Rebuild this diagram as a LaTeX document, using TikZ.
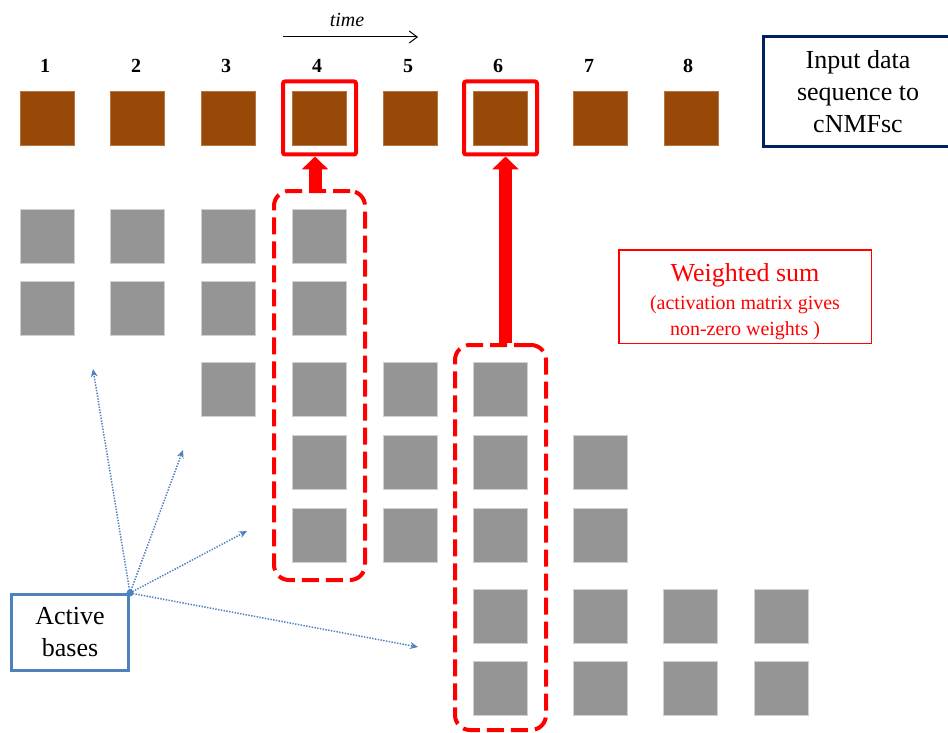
\documentclass[tikz,border=0pt]{standalone}
\usepackage{fontspec}
\setmainfont{Liberation Serif}
\usetikzlibrary{arrows.meta}
\definecolor{brn}{HTML}{984807}
\definecolor{gry}{HTML}{959595}
\definecolor{gryline}{HTML}{D0D0D0}
\definecolor{navy}{HTML}{002060}
\definecolor{bblue}{HTML}{4F81BD}
\definecolor{rred}{HTML}{FF0000}
\tikzset{
  brownsq/.style={fill=brn, draw=brn!75!white, line width=0.6pt, minimum size=54pt, inner sep=0pt},
  graysq/.style={fill=gry, draw=gryline, line width=0.8pt, minimum size=54pt, inner sep=0pt},
  numlab/.style={font=\fontsize{20}{24}\selectfont\bfseries, inner sep=0pt},
  redbox/.style={draw=rred, line width=4pt, rounded corners=2pt, minimum size=73pt, inner sep=0pt},
  dashbox/.style={draw=rred, line width=4pt, rounded corners=15pt, dash pattern=on 17pt off 7pt, minimum width=91pt, inner sep=0pt},
  uparrow/.style={draw=rred, line width=13pt, -{Triangle[width=26pt,length=13pt]}},
  bigtext/.style={font=\fontsize{26}{32}\selectfont, align=center},
  inbox/.style={bigtext, draw=navy, line width=3pt, minimum width=189pt, minimum height=110pt, inner sep=0pt},
  wtext/.style={text=rred, inner sep=0pt, align=center, font=\fontsize{26}{29}\selectfont},
  wframe/.style={draw=rred, line width=1.5pt},
  abox/.style={bigtext, draw=bblue, line width=3pt, minimum width=117pt, minimum height=76pt, inner sep=0pt},
  dotarrow/.style={draw=bblue, line width=1.5pt, dash pattern=on 1.4pt off 1.4pt, -{Stealth[length=8pt,width=7pt]}},
  timearrow/.style={draw=black, line width=1pt, -{Straight Barb[length=8pt,width=12pt]}}
}
\begin{document}
\begin{tikzpicture}[x=1pt,y=-1pt]
\useasboundingbox (0,0) rectangle (948,733);
% input sequence
\foreach \n/\cx in {1/47.5,2/137.5,3/228.5,4/319.5,5/410,6/500.5,7/600,8/691}
  \node[brownsq] (b\n) at (\cx,118.5) {};
\foreach \n/\lx in {1/45,2/136,3/226,4/317,5/408,6/498,7/589,8/688}
  \node[numlab] (n\n) at (\lx,66) {\n};
% time
\coordinate (ts) at (283,37);
\coordinate (te) at (418,37);
\draw[timearrow] (ts) -- (te);
\node[font=\fontsize{20}{24}\selectfont\itshape] (tl) at (347,20) {time};
% gray bases
\foreach \n/\cx in {1/47.5,2/137.5,3/228.5,4/319.5}{
  \node[graysq] (gA\n) at (\cx,236) {};
  \node[graysq] (gB\n) at (\cx,308.5) {};
}
\foreach \n/\cx in {3/228.5,4/319.5,5/410,6/500.5}
  \node[graysq] (gC\n) at (\cx,389.5) {};
\foreach \n/\cx in {4/319.5,5/410,6/500.5,7/600.5}{
  \node[graysq] (gD\n) at (\cx,462.5) {};
  \node[graysq] (gE\n) at (\cx,535) {};
}
\foreach \n/\cx in {6/500.5,7/600.5,8/690.5,9/781}{
  \node[graysq] (gF\n) at (\cx,616) {};
  \node[graysq] (gG\n) at (\cx,688.5) {};
}
% red highlight boxes
\node[redbox] (r4) at (319.5,118) {};
\node[redbox] (r6) at (500.5,118) {};
\node[dashbox, minimum height=389pt] (d4) at (319.5,385.5) {};
\node[dashbox, minimum height=385pt] (d6) at (500.5,537.5) {};
\coordinate (ax4) at (315,0);
\coordinate (ax6) at (505.5,0);
\draw[uparrow] (d4.north -| ax4) -- (r4.south -| ax4);
\draw[uparrow] (d6.north -| ax6) -- (r6.south -| ax6);
% text boxes
\node[inbox] (in) at (858,91.5) {Input data\\sequence to\\cNMFsc};
\node[wtext] (ws) at (745,301.5) {Weighted sum\\[-1pt]{\fontsize{20}{24}\selectfont (activation matrix gives}\\[-3pt]{\fontsize{20}{24}\selectfont non-zero weights )}};
\draw[wframe] ([shift={(-126.25,-51.75)}]ws.center) rectangle ([shift={(126.25,41.75)}]ws.center);
\node[abox] (ab) at (70,632.5) {Active\\bases};
% active bases pointers
\coordinate (hub) at (ab.north east);
\fill[bblue] (hub) circle (3.5pt);
\coordinate (t1) at (93,369);
\coordinate (t2) at (183,450);
\coordinate (t3) at (247,531);
\coordinate (t4) at (418,647);
\foreach \t in {t1,t2,t3,t4}
  \draw[dotarrow] (hub) -- (\t);
\end{tikzpicture}
\end{document}
